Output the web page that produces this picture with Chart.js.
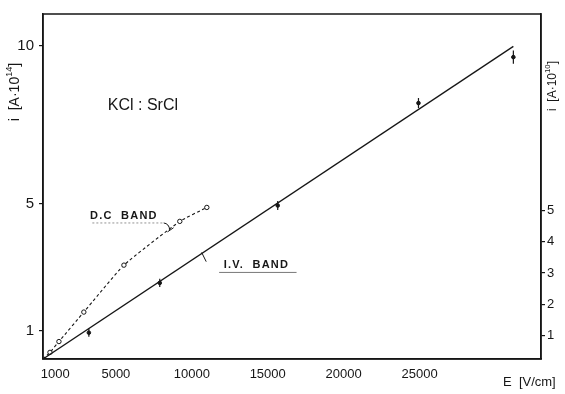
<!DOCTYPE html>
<html><head><meta charset="utf-8">
<script src="https://cdn.jsdelivr.net/npm/chart.js@4"></script>
<style>html,body{margin:0;padding:0;background:#fff}</style>
</head><body>
<canvas id="c" width="565" height="394"></canvas>
<script>
// ---- data ----
const xTicks = [1000, 5000, 10000, 15000, 20000, 25000];
const leftTicks = [1, 5, 10];
const rightTicks = [1, 2, 3, 4, 5];

// D.C. band (open circles, dashed curve); first entry is the curve's start at the origin
const dcE = [200, 660, 1250, 2890, 5530, 9210, 10990];
const dcI = [0.11, 0.32, 0.66, 1.59, 3.07, 4.45, 4.89];

// I.V. band fitted straight line
const ivLineE = [200, 31180];
const ivLineI = [0.11, 9.97];

// I.V. band measured points with vertical error bars
const ivE = [3220, 7890, 15660, 24930, 31180];
const ivI = [0.94, 2.51, 4.95, 8.18, 9.63];
const ivErr = [0.13, 0.13, 0.14, 0.16, 0.21];

const FONT = "'Liberation Sans', Arial, sans-serif";
const INK = '#161616';

function pts(xs, ys) { return xs.map((x, i) => ({ x, y: ys[i] })); }

const deco = {
  id: 'deco',
  beforeDraw(chart) {
    const c = chart.ctx;
    c.save(); c.fillStyle = '#fff'; c.fillRect(0, 0, chart.width, chart.height); c.restore();
  },
  afterDraw(chart) {
    const c = chart.ctx, a = chart.chartArea;
    const sx = chart.scales.x, sy = chart.scales.y;
    const X = v => sx.getPixelForValue(v), Y = v => sy.getPixelForValue(v);
    c.save();
    // frame
    c.strokeStyle = INK; c.lineWidth = 1.5;
    c.strokeRect(a.left, a.top, a.right - a.left, a.bottom - a.top);

    // error bars on I.V. points
    c.lineWidth = 1.2;
    ivE.forEach((e, i) => {
      c.beginPath();
      c.moveTo(X(e), Y(ivI[i] - ivErr[i]));
      c.lineTo(X(e), Y(ivI[i] + ivErr[i]));
      c.stroke();
    });

    c.fillStyle = INK;
    c.textBaseline = 'middle';
    // KCl : SrCl
    c.font = '16px ' + FONT;
    c.textAlign = 'left';
    c.fillText('KCl : SrCl', X(4470), Y(8.09));

    // D.C. BAND label
    c.font = 'bold 11px ' + FONT;
    c.letterSpacing = '1.2px';
    c.fillText('D.C  BAND', X(3300), Y(4.63));
    c.letterSpacing = '0px';
    c.strokeStyle = '#777'; c.lineWidth = 0.8;
    c.setLineDash([2, 2]);
    c.beginPath(); c.moveTo(X(3450), Y(4.4)); c.lineTo(X(8150), Y(4.4)); c.stroke();
    c.setLineDash([]);
    c.strokeStyle = INK; c.lineWidth = 1;
    c.beginPath(); c.moveTo(X(8150), Y(4.4)); c.quadraticCurveTo(X(8500), Y(4.38), X(8550), Y(4.18)); c.stroke();
    c.beginPath(); c.moveTo(X(8400), Y(4.12)); c.lineTo(X(8800), Y(4.25)); c.stroke();

    // I.V. BAND label
    c.letterSpacing = '1.2px';
    c.fillText('I.V.  BAND', X(12100), Y(3.06));
    c.letterSpacing = '0px';
    c.strokeStyle = '#555'; c.lineWidth = 0.8;
    c.beginPath(); c.moveTo(X(11800), Y(2.84)); c.lineTo(X(16900), Y(2.84)); c.stroke();
    c.strokeStyle = INK; c.lineWidth = 1;
    c.beginPath(); c.moveTo(X(10650), Y(3.47)); c.lineTo(X(10950), Y(3.18)); c.stroke();

    // axis titles
    function sup(base, supTxt, tail, size) {
      c.font = size + 'px ' + FONT;
      const w1 = c.measureText(base).width;
      c.font = (size * 0.65) + 'px ' + FONT;
      const w2 = c.measureText(supTxt).width;
      c.font = size + 'px ' + FONT;
      const w3 = c.measureText(tail).width;
      const total = w1 + w2 + w3;
      let x = -total / 2;
      c.textAlign = 'left';
      c.fillText(base, x, 0); x += w1;
      c.font = (size * 0.65) + 'px ' + FONT;
      c.fillText(supTxt, x, -size * 0.4); x += w2;
      c.font = size + 'px ' + FONT;
      c.fillText(tail, x, 0);
    }
    c.save(); c.translate(15, 92); c.rotate(-Math.PI / 2);
    sup('i  [A\u00b710', '14', ']', 14); c.restore();
    c.save(); c.translate(553, 86); c.rotate(-Math.PI / 2);
    sup('i  [A\u00b710', '10', ']', 12); c.restore();

    c.font = '13px ' + FONT; c.textAlign = 'left';
    c.fillText('E  [V/cm]', 503, 382);
    c.restore();
  }
};

new Chart(document.getElementById('c'), {
  type: 'scatter',
  data: {
    datasets: [
      { label: 'I.V. line', data: pts(ivLineE, ivLineI), showLine: true, borderColor: INK,
        borderWidth: 1.3, pointRadius: 0, yAxisID: 'y' },
      { label: 'D.C. band', data: pts(dcE, dcI), showLine: true, borderColor: INK, borderWidth: 1.1,
        borderDash: [3, 2.5], tension: 0.15,
        pointRadius: dcE.map((_, i) => i === 0 ? 0 : 2.2), pointBackgroundColor: '#fff',
        pointBorderColor: INK, pointBorderWidth: 1, yAxisID: 'y' },
      { label: 'I.V. points', data: pts(ivE, ivI), showLine: false, pointRadius: 1.8,
        pointBackgroundColor: INK, pointBorderColor: INK, yAxisID: 'y' }
    ]
  },
  options: {
    responsive: false, devicePixelRatio: 1, animation: false,
    layout: { padding: { top: 6, left: 0, right: 0, bottom: 0 } },
    plugins: { legend: { display: false }, tooltip: { enabled: false } },
    scales: {
      x: {
        type: 'linear', position: 'bottom', min: 200, max: 33000,
        afterBuildTicks: s => { s.ticks = xTicks.map(v => ({ value: v })); },
        grid: { display: false, drawTicks: false },
        border: { display: true, color: INK, width: 1.5 },
        ticks: { color: INK, font: { size: 13, family: FONT }, padding: 8, maxRotation: 0,
                 autoSkip: false, callback: v => String(v) },
        afterFit: s => { s.height = 35; }
      },
      y: {
        type: 'linear', position: 'left', min: 0.11, max: 10.99,
        afterBuildTicks: s => { s.ticks = leftTicks.map(v => ({ value: v })); },
        grid: { drawOnChartArea: false, drawTicks: true, tickLength: 4, color: INK, lineWidth: 1.2 },
        border: { display: true, color: INK, width: 1.5 },
        ticks: { color: INK, font: { size: 15, family: FONT }, padding: 5, autoSkip: false,
                 callback: v => String(v) },
        afterFit: s => { s.width = 43; }
      },
      y2: {
        type: 'linear', position: 'right', min: 0.25, max: 11.28,
        afterBuildTicks: s => { s.ticks = rightTicks.map(v => ({ value: v })); },
        grid: { drawOnChartArea: false, drawTicks: true, tickLength: 4, color: INK, lineWidth: 1.2 },
        border: { display: true, color: INK, width: 1.5 },
        ticks: { color: INK, font: { size: 13, family: FONT }, padding: 2, autoSkip: false,
                 callback: v => String(v) },
        afterFit: s => { s.width = 24; }
      }
    }
  },
  plugins: [deco]
});
</script>
</body></html>
